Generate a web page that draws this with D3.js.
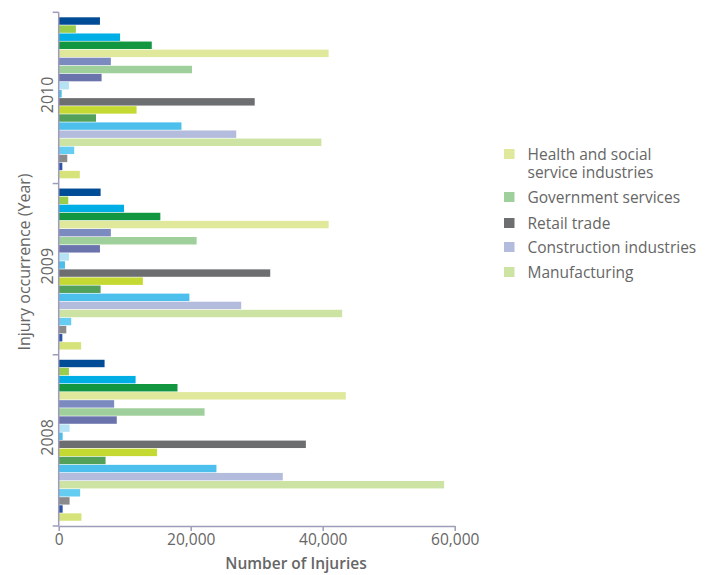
<!DOCTYPE html>
<html>
<head>
<meta charset="utf-8">
<script src="https://cdn.jsdelivr.net/npm/d3@7"></script>
<style>
  html, body { margin: 0; padding: 0; background: #fff; }
  svg { display: block; font-family: "Open Sans", "Noto Sans", sans-serif; }
</style>
</head>
<body>
<svg id="chart" width="713" height="575"></svg>
<script>
// Years, top to bottom
const years = ["2010", "2009", "2008"];

// Industry series, in drawing order (top bar of each year first)
const seriesColors = [
  "#004c97", "#9acd4c", "#00aee6", "#12963f", "#dfe89b",
  "#7b8abf", "#9fcf9b", "#6b73ad", "#b5e3f5", "#4dbde9",
  "#6d6e70", "#c4d932", "#52a05a", "#4dbfec", "#b4bcdd",
  "#cde3a3", "#66cdf2", "#8b8b8b", "#2c55a5", "#d6e37a"
];

// Injuries per series for each year
const values2010 = [6250, 2600, 9300, 14100, 40900, 7900, 20200, 6500, 1550, 450,
                    29700, 11800, 5650, 18600, 26900, 39800, 2350, 1300, 550, 3200];
const values2009 = [6350, 1450, 9900, 15400, 40900, 7900, 20900, 6250, 1550, 950,
                    32050, 12750, 6350, 19800, 27650, 42950, 1900, 1150, 550, 3400];
const values2008 = [6950, 1550, 11650, 18000, 43500, 8400, 22100, 8800, 1650, 600,
                    37450, 14900, 7100, 23900, 33950, 58400, 3250, 1650, 600, 3450];

// Legend entries: label lines and the series they refer to
const legendLabels = [
  ["Health and social", "service industries"],
  ["Government services"],
  ["Retail trade"],
  ["Construction industries"],
  ["Manufacturing"]
];
const legendSeries = [4, 6, 10, 14, 15];

const xTicks = [0, 20000, 40000, 60000];

const valuesByYear = { "2010": values2010, "2009": values2009, "2008": values2008 };

const svg = d3.select("#chart");
const axisColor = "#9d9cb9";
const textColor = "#666666";

const x = d3.scaleLinear().domain([0, 60000]).range([58.7, 454.7]);
const yYear = d3.scaleBand().domain(years).range([12.3, 526]).padding(0);
const ySeries = d3.scaleBand()
  .domain(d3.range(seriesColors.length))
  .range([5, 166])
  .paddingInner(0.08);

// Bars
const groups = svg.append("g").selectAll("g")
  .data(years)
  .join("g")
  .attr("transform", d => `translate(0,${yYear(d)})`);

groups.selectAll("rect")
  .data(yr => valuesByYear[yr].map((v, i) => ({ v, i })))
  .join("rect")
  .attr("x", x(0))
  .attr("y", d => ySeries(d.i))
  .attr("width", d => x(d.v) - x(0))
  .attr("height", ySeries.bandwidth())
  .attr("fill", d => seriesColors[d.i]);

// X axis
const xAxis = svg.append("g")
  .attr("transform", `translate(0,${yYear.range()[1]})`)
  .call(d3.axisBottom(x).tickValues(xTicks).tickFormat(d3.format(",")).tickSize(5).tickSizeOuter(0));
xAxis.select(".domain").attr("stroke", axisColor).attr("stroke-width", 1.5);
xAxis.selectAll(".tick line").attr("stroke", axisColor).attr("stroke-width", 1.5);
xAxis.selectAll(".tick text")
  .attr("fill", textColor)
  .attr("font-size", 15.5)
  .attr("y", 8)
  .attr("font-family", "'Open Sans', sans-serif");

// Y axis: vertical line with ticks at year boundaries
const yAxis = svg.append("g");
yAxis.append("line")
  .attr("x1", x(0)).attr("x2", x(0))
  .attr("y1", yYear.range()[0]).attr("y2", yYear.range()[1])
  .attr("stroke", axisColor).attr("stroke-width", 1.5);
const boundaries = years.map(d => yYear(d)).concat([yYear.range()[1]]);
yAxis.selectAll("line.tick")
  .data(boundaries)
  .join("line")
  .attr("class", "tick")
  .attr("x1", x(0) - 6).attr("x2", x(0))
  .attr("y1", d => d).attr("y2", d => d)
  .attr("stroke", axisColor).attr("stroke-width", 1.5);

yAxis.selectAll("text.year")
  .data(years)
  .join("text")
  .attr("class", "year")
  .attr("transform", d => `translate(47,${yYear(d) + yYear.bandwidth() / 2 - 3}) rotate(-90)`)
  .attr("text-anchor", "middle")
  .attr("dominant-baseline", "central")
  .attr("fill", textColor)
  .attr("font-size", 16)
  .text(d => d);

// Axis titles
svg.append("text")
  .attr("x", 296).attr("y", 569)
  .attr("text-anchor", "middle")
  .attr("fill", textColor)
  .attr("font-size", 15.5)
  .attr("font-weight", 600)
  .text("Number of Injuries");

svg.append("text")
  .attr("transform", "translate(24,262) rotate(-90)")
  .attr("text-anchor", "middle")
  .attr("dominant-baseline", "central")
  .attr("fill", textColor)
  .attr("font-size", 16)
  .text("Injury occurrence (Year)");

// Legend
const legendRows = [154, 197, 223, 247, 272];
const legend = svg.append("g").selectAll("g")
  .data(legendLabels)
  .join("g")
  .attr("transform", (d, i) => `translate(0,${legendRows[i]})`);

legend.append("rect")
  .attr("x", 504).attr("y", -5)
  .attr("width", 10.5).attr("height", 10)
  .attr("fill", (d, i) => seriesColors[legendSeries[i]]);

legend.selectAll("text")
  .data(d => d)
  .join("text")
  .attr("x", 527.5)
  .attr("y", (d, i) => i * 17.5)
  .attr("fill", textColor)
  .attr("font-size", 15.5)
  .attr("dominant-baseline", "central")
  .text(d => d);
</script>
</body>
</html>
